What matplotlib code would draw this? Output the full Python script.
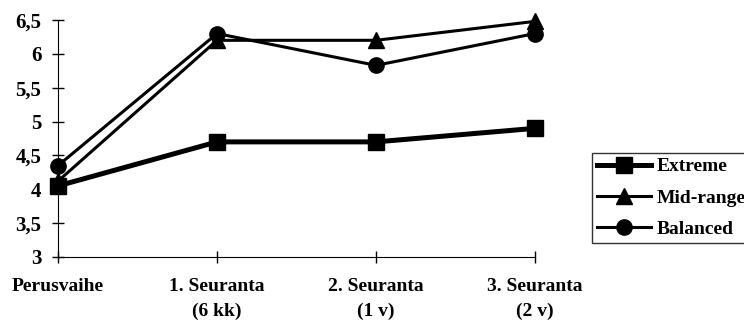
import matplotlib.pyplot as plt
from matplotlib.ticker import FixedLocator

categories = ["Perusvaihe", "1. Seuranta\n(6 kk)", "2. Seuranta\n(1 v)", "3. Seuranta\n(2 v)"]
extreme = [4.05, 4.7, 4.7, 4.9]
midrange = [4.12, 6.2, 6.2, 6.48]
balanced = [4.35, 6.3, 5.83, 6.3]
yticks = [3, 3.5, 4, 4.5, 5, 5.5, 6, 6.5]
yticklabels = ["3", "3,5", "4", "4,5", "5", "5,5", "6", "6,5"]

plt.rcParams['font.family'] = ['Liberation Serif', 'DejaVu Serif']
plt.rcParams['font.weight'] = 'bold'

fig = plt.figure(figsize=(7.44, 3.25), dpi=100)
ax = fig.add_axes([58/744, 1-257/325, (535-58)/744, (257-20)/325])

x = range(len(categories))
ax.plot(x, extreme, color="black", lw=3.6, marker="s", ms=12, label="Extreme", clip_on=False, zorder=3)
ax.plot(x, midrange, color="black", lw=2.2, marker="^", ms=11, label="Mid-range", clip_on=False, zorder=3)
ax.plot(x, balanced, color="black", lw=2.2, marker="o", ms=11, label="Balanced", clip_on=False, zorder=3)

ax.set_xlim(0, 3)
ax.set_ylim(3, 6.5)
ax.set_xticks(list(x))
ax.set_xticklabels(categories, fontsize=14, linespacing=1.6)
ax.yaxis.set_major_locator(FixedLocator(yticks))
ax.set_yticklabels(yticklabels, fontsize=15)
ax.tick_params(direction="inout", length=8, width=1, pad=8)
ax.tick_params(axis="x", pad=11)
ax.spines["top"].set_visible(False)
ax.spines["right"].set_visible(False)

leg = fig.legend(loc="upper left", bbox_to_anchor=(592/744, 1-153/325), frameon=True, fancybox=False,
                 edgecolor="black", fontsize=14, handlelength=2.8, handletextpad=0.25,
                 borderpad=0.25, labelspacing=0.7, borderaxespad=0)
leg.get_frame().set_linewidth(1)

fig.savefig("out.png", dpi=100)
